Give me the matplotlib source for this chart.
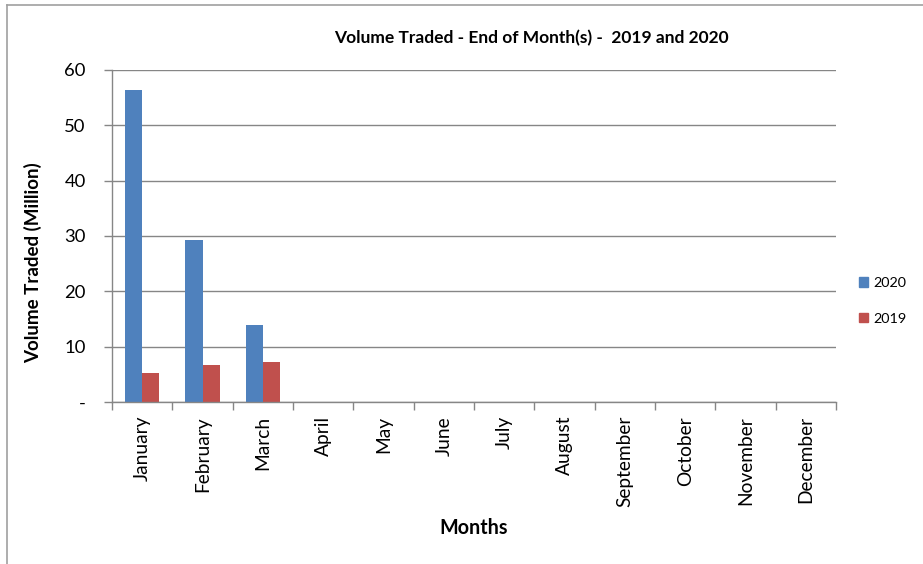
import matplotlib

matplotlib.use("Agg")
import matplotlib.pyplot as plt
from matplotlib.lines import Line2D
from matplotlib.patches import Patch
import numpy as np

MONTHS = ["January", "February", "March", "April", "May", "June", "July",
          "August", "September", "October", "November", "December"]
VOL_2020 = [56.3, 29.2, 14.0, 0, 0, 0, 0, 0, 0, 0, 0, 0]
VOL_2019 = [5.3, 6.7, 7.2, 0, 0, 0, 0, 0, 0, 0, 0, 0]
Y_TICKS = [0, 10, 20, 30, 40, 50, 60]
Y_LABELS = ["-", "10", "20", "30", "40", "50", "60"]

BLUE = "#4F81BD"
RED = "#C0504D"
GRID = "#868686"

plt.rcParams["font.family"] = ["Lato", "DejaVu Sans"]

W, H = 923, 564
fig = plt.figure(figsize=(W / 100, H / 100), dpi=100)
ax = fig.add_axes([112 / W, 1 - 402 / H, (836 - 112) / W, (402 - 70) / H])

x = np.arange(len(MONTHS))
bw = 1 / 3.5
ax.bar(x - bw / 2, VOL_2020, width=bw, color=BLUE, label="2020")
ax.bar(x + bw / 2, VOL_2019, width=bw, color=RED, label="2019")

ax.set_xlim(-0.5, len(MONTHS) - 0.5)
ax.set_ylim(0, 60)
ax.set_yticks(Y_TICKS)
ax.set_yticklabels(Y_LABELS, fontsize=13.3)
ax.yaxis.grid(True, color=GRID, linewidth=1)
ax.set_axisbelow(True)

ax.set_xticks(x)
ax.set_xticklabels(MONTHS, rotation=90, fontsize=13.8, va="top")
ax.tick_params(axis="x", length=0, pad=10)
ax.set_xticks(np.arange(-0.5, len(MONTHS)), minor=True)
ax.tick_params(axis="x", which="minor", length=6, color=GRID, width=1)
ax.tick_params(axis="y", length=6, color=GRID, width=1, pad=13)

for side in ["top", "right"]:
    ax.spines[side].set_visible(False)
for side in ["left", "bottom"]:
    ax.spines[side].set_color(GRID)
    ax.spines[side].set_linewidth(1)

ax.set_xlabel("Months", fontsize=14.2, fontweight="bold", va="center")
ax.xaxis.set_label_coords(0.5, (402 - 528) / 332)
ax.set_ylabel("Volume Traded (Million)", fontsize=13.5, fontweight="bold", va="center")
ax.yaxis.set_label_coords((33 - 112) / 724, (402 - 263) / 332)
fig.text(531 / W, 1 - 38 / H, "Volume Traded - End of Month(s) -  2019 and 2020",
         ha="center", va="center", fontsize=12.5, fontweight="bold")

handles = [Patch(color=BLUE, label="2020"), Patch(color=RED, label="2019")]
fig.legend(handles=handles, loc="center left", bbox_to_anchor=(846 / W, 1 - 301 / H),
           frameon=False, fontsize=10.4, handlelength=0.6, handleheight=0.6,
           handletextpad=0.4, labelspacing=1.65)

# outer chart border (only top and left edges visible in the crop)
fig.add_artist(Line2D([7 / W, 7 / W], [0, 1 - 5 / H], transform=fig.transFigure,
                      color="#A0A0A0", linewidth=1.2))
fig.add_artist(Line2D([7 / W, 1], [1 - 5 / H, 1 - 5 / H], transform=fig.transFigure,
                      color="#A0A0A0", linewidth=1.2))

fig.savefig("out.png", dpi=100)
